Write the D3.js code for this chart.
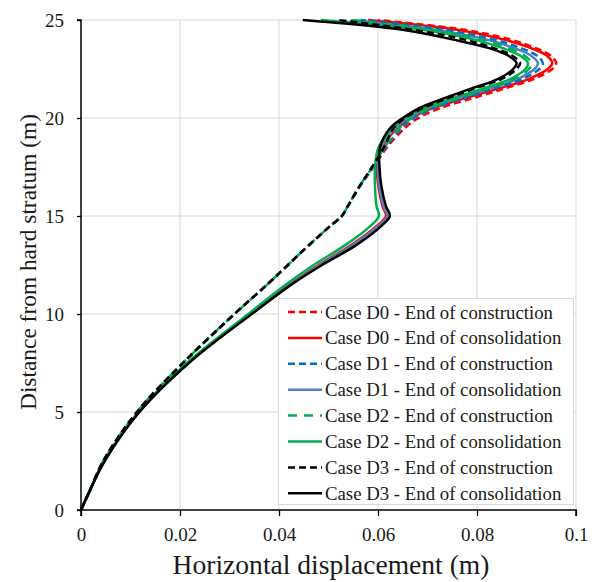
<!DOCTYPE html>
<html>
<head>
<meta charset="utf-8">
<script src="https://cdn.jsdelivr.net/npm/d3@7"></script>
<style>
  html, body { margin: 0; padding: 0; background: #fff; }
  svg { display: block; }
  text { font-family: "Liberation Serif", "Times New Roman", serif; }
</style>
</head>
<body>
<svg id="chart" width="595" height="582"></svg>
<script>
// Distance above the hard stratum (m), shared by every profile
const depth = [0, 1, 2.5, 5, 7.5, 10, 11.5, 12.5, 13.5, 14.5, 15, 15.5, 16.5, 17.5, 18.5,
               19.5, 20, 20.5, 21, 21.5, 22, 22.5, 22.8, 23.2, 23.6, 24, 24.5, 25];

// Horizontal displacement (m) at each depth
const d0Construction = [0, 0.0018, 0.0045, 0.0113, 0.0206, 0.0310, 0.0376, 0.0418, 0.0460, 0.0504, 0.0527, 0.0539, 0.0563, 0.0591, 0.0618,
                        0.0655, 0.0682, 0.0725, 0.0790, 0.0855, 0.0915, 0.0952, 0.0960, 0.0948, 0.0915, 0.0868, 0.0775, 0.0600];
const d0Consolidation = [0, 0.0018, 0.0047, 0.0117, 0.0216, 0.0342, 0.0421, 0.0480, 0.0545, 0.0598, 0.0616, 0.0609, 0.0601, 0.0598, 0.0608,
                         0.0640, 0.0668, 0.0710, 0.0775, 0.0843, 0.0905, 0.0943, 0.0952, 0.0940, 0.0905, 0.0855, 0.0760, 0.0580];
const d1Construction = [0, 0.0018, 0.0045, 0.0113, 0.0206, 0.0310, 0.0376, 0.0418, 0.0460, 0.0504, 0.0527, 0.0539, 0.0563, 0.0590, 0.0615,
                        0.0648, 0.0673, 0.0712, 0.0772, 0.0835, 0.0893, 0.0926, 0.0933, 0.0920, 0.0885, 0.0835, 0.0735, 0.0565];
const d1Consolidation = [0, 0.0018, 0.0047, 0.0117, 0.0217, 0.0343, 0.0423, 0.0483, 0.0548, 0.0601, 0.0619, 0.0611, 0.0603, 0.0600, 0.0606,
                         0.0636, 0.0662, 0.0702, 0.0762, 0.0825, 0.0883, 0.0916, 0.0923, 0.0908, 0.0872, 0.0820, 0.0715, 0.0550];
const d2Construction = [0, 0.0018, 0.0045, 0.0113, 0.0206, 0.0310, 0.0376, 0.0418, 0.0460, 0.0504, 0.0527, 0.0539, 0.0562, 0.0589, 0.0613,
                        0.0644, 0.0668, 0.0705, 0.0760, 0.0820, 0.0875, 0.0905, 0.0910, 0.0895, 0.0860, 0.0810, 0.0710, 0.0540];
const d2Consolidation = [0, 0.0018, 0.0046, 0.0116, 0.0214, 0.0338, 0.0414, 0.0470, 0.0533, 0.0585, 0.0602, 0.0597, 0.0594, 0.0594, 0.0601,
                         0.0630, 0.0655, 0.0693, 0.0750, 0.0812, 0.0868, 0.0898, 0.0903, 0.0886, 0.0848, 0.0795, 0.0690, 0.0485];
const d3Construction = [0, 0.0018, 0.0045, 0.0113, 0.0206, 0.0310, 0.0376, 0.0418, 0.0460, 0.0504, 0.0527, 0.0539, 0.0562, 0.0588, 0.0612,
                        0.0632, 0.0655, 0.0690, 0.0740, 0.0795, 0.0850, 0.0880, 0.0887, 0.0870, 0.0830, 0.0775, 0.0670, 0.0520];
const d3Consolidation = [0, 0.0018, 0.0048, 0.0118, 0.0218, 0.0345, 0.0425, 0.0487, 0.0555, 0.0607, 0.0624, 0.0616, 0.0607, 0.0603, 0.0604,
                         0.0625, 0.0650, 0.0683, 0.0733, 0.0788, 0.0843, 0.0873, 0.0880, 0.0862, 0.0820, 0.0752, 0.0650, 0.0448];

const seriesNames = [
  "Case D0 - End of construction", "Case D0 - End of consolidation",
  "Case D1 - End of construction", "Case D1 - End of consolidation",
  "Case D2 - End of construction", "Case D2 - End of consolidation",
  "Case D3 - End of construction", "Case D3 - End of consolidation"
];
const seriesValues = [d0Construction, d0Consolidation, d1Construction, d1Consolidation,
                      d2Construction, d2Consolidation, d3Construction, d3Consolidation];
const seriesColors = ["#ff0000", "#ff0000", "#0070c0", "#4f81bd", "#00b050", "#00b050", "#000000", "#000000"];
const seriesDash = ["7,4", null, "7,4", null, "9,7", null, "7,4", null];

const xTicks = [0, 0.02, 0.04, 0.06, 0.08, 0.1];
const yTicks = [0, 5, 10, 15, 20, 25];

const ink = "#1a1a1a";

const svg = d3.select("#chart");
const plotL = 81, plotR = 576, plotT = 20, plotB = 510;

const x = d3.scaleLinear().domain([0, 0.1]).range([plotL, plotR]);
const y = d3.scaleLinear().domain([0, 25]).range([plotB, plotT]);

// Scale a text element's font so that it spans the given width
function fitWidth(sel, size, width) {
  sel.attr("font-size", size);
  const len = sel.node().getComputedTextLength();
  if (len > 0) sel.attr("font-size", (size * width / len).toFixed(2));
  return sel;
}

// Gridlines
const grid = svg.append("g");
grid.selectAll("line.v").data(xTicks.slice(1)).join("line").attr("class", "v")
  .attr("x1", d => x(d)).attr("x2", d => x(d)).attr("y1", plotT).attr("y2", plotB)
  .attr("stroke", "#d9d9d9").attr("stroke-width", 1);
grid.selectAll("line.h").data(yTicks.slice(1)).join("line").attr("class", "h")
  .attr("y1", d => y(d)).attr("y2", d => y(d)).attr("x1", plotL).attr("x2", plotR)
  .attr("stroke", "#d9d9d9").attr("stroke-width", 1);

// Profiles
const line = d3.line().x(d => x(d[0])).y(d => y(d[1])).curve(d3.curveCatmullRom.alpha(0.5));
const order = [1, 0, 3, 2, 5, 4, 7, 6];
svg.append("g").selectAll("path").data(order).join("path")
  .attr("d", i => line(seriesValues[i].map((v, k) => [v, depth[k]])))
  .attr("fill", "none")
  .attr("stroke", i => seriesColors[i])
  .attr("stroke-width", 2.5)
  .attr("stroke-dasharray", i => seriesDash[i]);

// Axes
const xAxis = svg.append("g").attr("transform", `translate(0,${plotB})`)
  .call(d3.axisBottom(x).tickValues(xTicks).tickFormat(d => String(+d.toFixed(2))).tickSize(6).tickPadding(12));
const yAxis = svg.append("g").attr("transform", `translate(${plotL},0)`)
  .call(d3.axisLeft(y).tickValues(yTicks).tickSize(4).tickPadding(13));
[xAxis, yAxis].forEach(a => {
  a.attr("font-family", null).attr("font-size", 19);
  a.select(".domain").attr("stroke", "#000").attr("stroke-width", 1.5);
  a.selectAll(".tick line").attr("stroke", "#000").attr("stroke-width", 1.3);
  a.selectAll(".tick text").attr("fill", ink);
});
xAxis.select(".domain").attr("d", `M${plotL},6V0H${plotR}V6`);
yAxis.select(".domain").attr("d", `M-4,${plotB}H0V${plotT}H-4`);

// Axis titles
const xTitle = svg.append("text").attr("x", 331).attr("y", 574)
  .attr("text-anchor", "middle").attr("fill", ink)
  .text("Horizontal displacement (m)");
fitWidth(xTitle, 24, 317);
const yTitle = svg.append("text").attr("transform", "translate(36,262) rotate(-90)")
  .attr("text-anchor", "middle").attr("fill", ink)
  .text("Distance from hard stratum (m)");
fitWidth(yTitle, 22, 296);

// Legend
const lg = svg.append("g");
lg.append("rect").attr("x", 278.5).attr("y", 298.5).attr("width", 295).attr("height", 206)
  .attr("fill", "#fff").attr("stroke", "#d9d9d9").attr("stroke-width", 1);
const rows = lg.selectAll("g.row").data(seriesNames.map((n, i) => i)).join("g").attr("class", "row")
  .attr("transform", i => `translate(0,${312 + i * 25.9})`);
rows.append("line").attr("x1", 288).attr("x2", 322).attr("y1", 0).attr("y2", 0)
  .attr("stroke", i => seriesColors[i]).attr("stroke-width", 2.5)
  .attr("stroke-dasharray", i => seriesDash[i]);
const labels = rows.append("text").attr("x", 325).attr("y", 6.5).attr("fill", ink)
  .text(i => seriesNames[i]);
// one size for every entry, set by the first label's span
const first = labels.filter(i => i === 0);
fitWidth(first, 19, 228);
labels.attr("font-size", first.attr("font-size"));
</script>
</body>
</html>
